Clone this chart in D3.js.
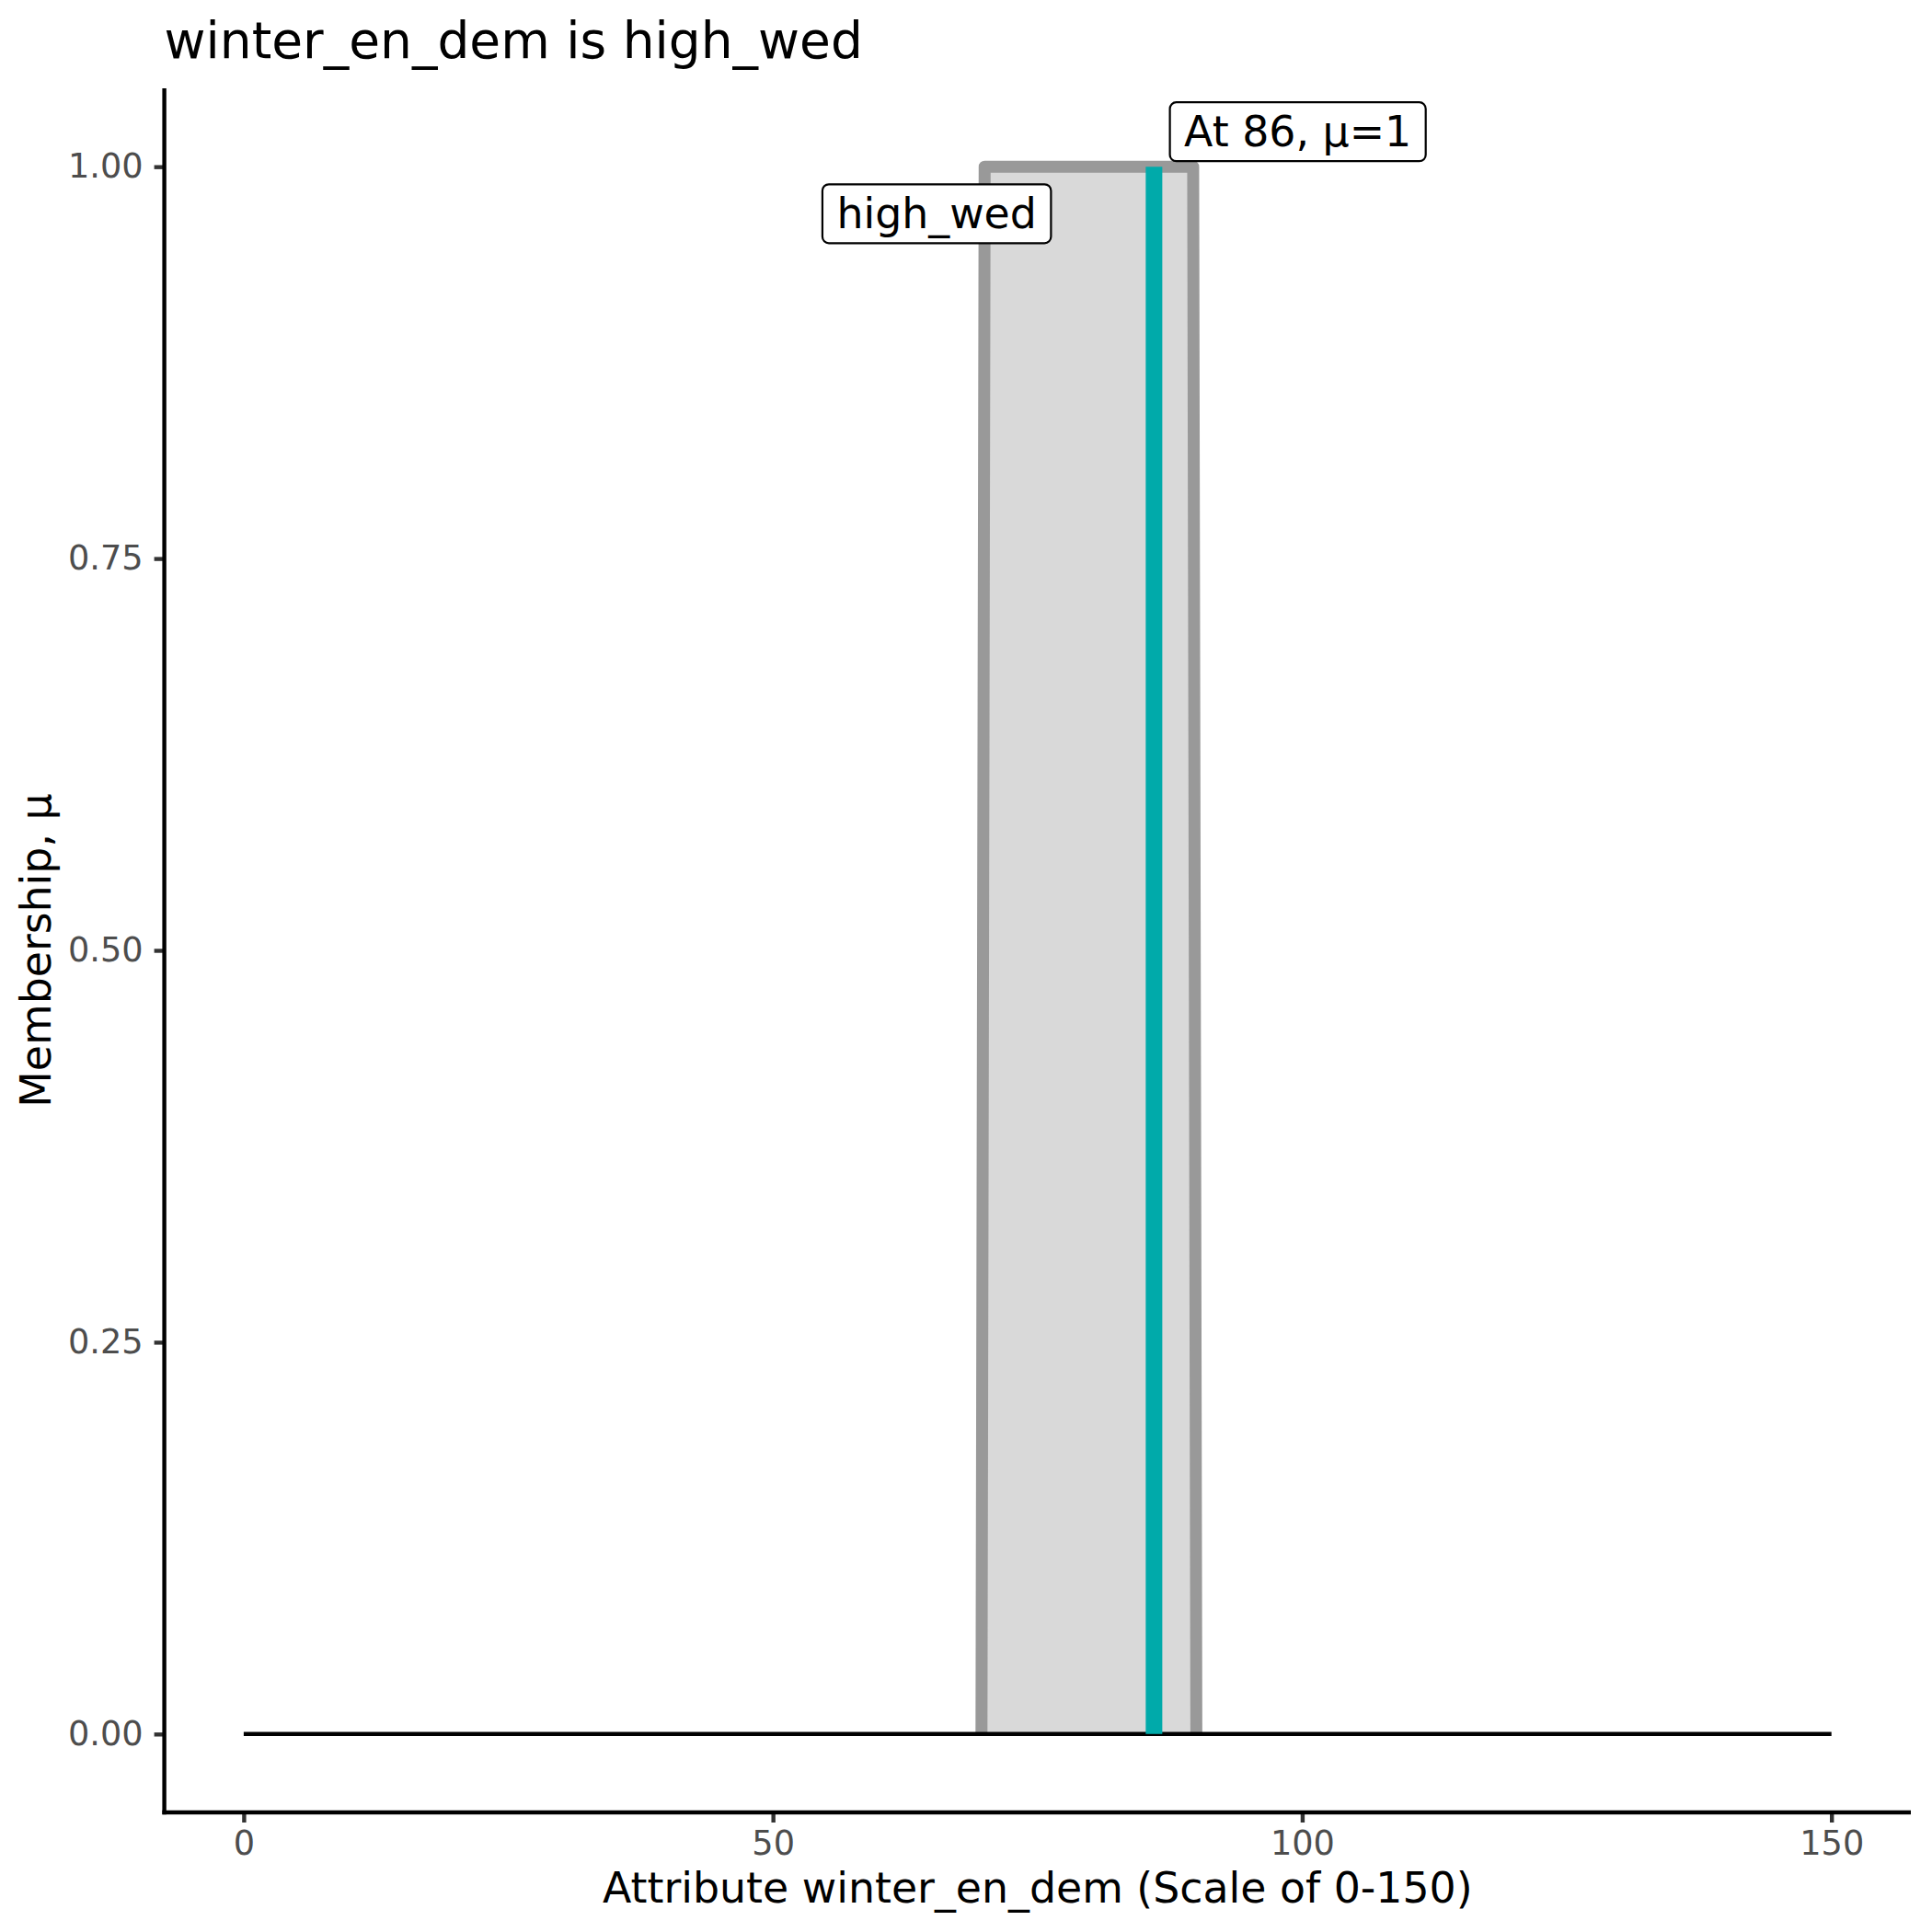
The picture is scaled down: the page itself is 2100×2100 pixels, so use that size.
<!DOCTYPE html>
<html lang="en">
<head>
<meta charset="UTF-8">
<title>winter_en_dem is high_wed</title>
<style>
html, body { margin: 0; padding: 0; background: #fff; }
svg { display: block; font-family: 'DejaVu Sans', sans-serif; }
.axis .domain { display: none; }
.axis line { stroke: #333333; stroke-width: 4.4; }
.axis text { fill: #4d4d4d; font-size: 36.7px; font-family: 'DejaVu Sans', sans-serif; }
</style>
</head>
<body>
<svg id="chart" width="2100" height="2100"></svg>
<script src="https://cdnjs.cloudflare.com/ajax/libs/d3/7.8.5/d3.min.js"></script>
<script>
// chart values
const titleText = 'winter_en_dem is high_wed';
const xTitle = 'Attribute winter_en_dem (Scale of 0-150)';
const yTitle = 'Membership, \u03bc';
const xTicks = [0, 50, 100, 150];
const yTicks = [0, 0.25, 0.5, 0.75, 1];
const universe = [0, 150];
const setX = [69.7, 70, 89.7, 90];
const setMu = [0, 1, 1, 0];
const inputValue = 86;
const inputMu = 1;
const setName = 'high_wed';
const inputLabel = 'At 86, \u03bc=1';

const svg = d3.select('#chart');
svg.append('rect').attr('width', 2100).attr('height', 2100).attr('fill', '#fff');

const panelLeft = 178.6, panelRight = 2077, panelTop = 96, panelBottom = 1970;

const x = d3.scaleLinear().domain([-7.5, 157.5]).range([panelLeft, panelRight]);
const y = d3.scaleLinear().domain([-0.05, 1.05]).range([panelBottom, panelTop]);

const setPts = setX.map((d, i) => [d, setMu[i]]);
const line = d3.line().x(d => x(d[0])).y(d => y(d[1]));

// fill of the fuzzy set
svg.append('path')
  .datum(setPts)
  .attr('fill', '#d9d9d9')
  .attr('d', line);

// outline of the fuzzy set
svg.append('path')
  .datum(setPts)
  .attr('fill', 'none')
  .attr('stroke', '#999999')
  .attr('stroke-width', 13)
  .attr('stroke-linejoin', 'round')
  .attr('d', line);

// zero line over the universe
svg.append('line')
  .attr('x1', x(universe[0])).attr('x2', x(universe[1]))
  .attr('y1', y(0)).attr('y2', y(0))
  .attr('stroke', '#000').attr('stroke-width', 4.6);

// input value
svg.append('line')
  .attr('x1', x(inputValue)).attr('x2', x(inputValue))
  .attr('y1', y(0)).attr('y2', y(inputMu))
  .attr('stroke', '#00aaaa').attr('stroke-width', 18);

// axes
svg.append('g')
  .attr('class', 'axis')
  .attr('transform', `translate(${panelLeft},0)`)
  .call(d3.axisLeft(y).tickValues(yTicks).tickSize(11).tickSizeOuter(0).tickPadding(12)
    .tickFormat(d3.format('.2f')));

svg.append('g')
  .attr('class', 'axis')
  .attr('transform', `translate(0,${panelBottom})`)
  .call(d3.axisBottom(x).tickValues(xTicks).tickSize(11).tickSizeOuter(0).tickPadding(9));

svg.append('line')
  .attr('x1', panelLeft).attr('x2', panelLeft).attr('y1', panelTop).attr('y2', panelBottom + 2.2)
  .attr('stroke', '#000').attr('stroke-width', 4.4);
svg.append('line')
  .attr('x1', panelLeft - 2.2).attr('x2', panelRight).attr('y1', panelBottom).attr('y2', panelBottom)
  .attr('stroke', '#000').attr('stroke-width', 4.4);

// labels with boxes
function boxLabel(text, px, py, anchor) {
  const g = svg.append('g');
  const rect = g.append('rect');
  const t = g.append('text')
    .attr('font-size', '45.8px')
    .attr('fill', '#000')
    .text(text);
  const w = t.node().getComputedTextLength();
  const bw = w + 31, bh = 64;
  let bx, by;
  if (anchor === 'center') { bx = px - bw / 2; by = py - bh / 2; }
  else { bx = px; by = py - bh; }
  t.attr('x', bx + 15.5).attr('y', by + 48);
  rect.attr('x', bx).attr('y', by).attr('width', bw).attr('height', bh)
    .attr('rx', 7).attr('ry', 7)
    .attr('fill', '#fff').attr('stroke', '#000').attr('stroke-width', 2.2);
}
boxLabel(setName, x(65.47), y(0.97), 'center');
boxLabel(inputLabel, x(87.5), y(1.0035), 'leftbottom');

// titles
svg.append('text')
  .attr('x', panelLeft).attr('y', 63)
  .attr('font-size', '55px').attr('fill', '#000')
  .text(titleText);

svg.append('text')
  .attr('x', (panelLeft + panelRight) / 2).attr('y', 2068)
  .attr('text-anchor', 'middle')
  .attr('font-size', '45.8px').attr('fill', '#000')
  .text(xTitle);

svg.append('text')
  .attr('transform', `translate(55,${(panelTop + panelBottom) / 2}) rotate(-90)`)
  .attr('text-anchor', 'middle')
  .attr('font-size', '45.8px').attr('fill', '#000')
  .text(yTitle);
</script>
</body>
</html>
